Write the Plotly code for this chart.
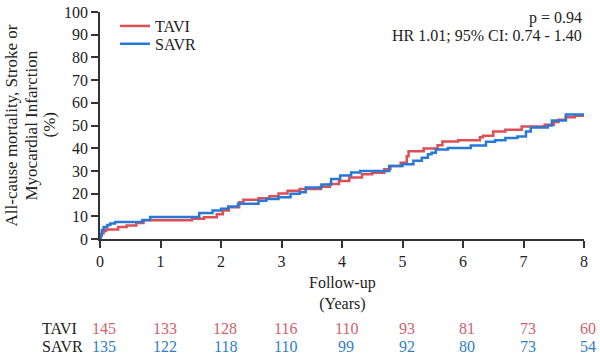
import plotly.graph_objects as go

# Kaplan-Meier style cumulative incidence (%)
tavi_t = [0, 0.01, 0.03, 0.06, 0.10, 0.30, 0.44, 0.60, 0.72, 1.52, 1.72, 1.93, 2.03, 2.13, 2.30, 2.37,
          2.62, 2.80, 2.95, 3.10, 3.30, 3.65, 3.80, 3.95, 4.12, 4.33, 4.50, 4.70, 4.80, 4.97, 5.07, 5.10,
          5.35, 5.58, 5.66, 5.92, 6.28, 6.33, 6.50, 6.70, 6.97, 7.35, 7.50, 7.58, 7.70, 7.85, 8.00]
tavi_v = [0, 1.5, 2.5, 3.5, 4.2, 5.3, 5.9, 7.1, 8.3, 8.9, 9.6, 10.9, 12.6, 14.0, 16.2, 17.3,
          18.0, 18.8, 20.0, 21.3, 22.0, 23.0, 24.2, 25.6, 27.1, 28.5, 29.2, 30.7, 32.2, 33.6, 36.5, 38.7,
          39.9, 41.3, 43.0, 43.5, 44.8, 45.5, 47.4, 48.1, 49.6, 50.3, 51.5, 52.5, 53.6, 54.3, 54.3]

savr_t = [0, 0.01, 0.03, 0.06, 0.12, 0.17, 0.25, 0.70, 0.83, 1.64, 1.86, 2.00, 2.12, 2.28, 2.62, 2.75,
          2.95, 3.15, 3.30, 3.40, 3.66, 3.82, 3.97, 4.15, 4.30, 4.78, 5.00, 5.18, 5.32, 5.42, 5.48, 5.55,
          5.75, 6.13, 6.38, 6.53, 6.70, 6.90, 7.04, 7.12, 7.40, 7.47, 7.70, 8.00]
savr_v = [0, 2.0, 4.0, 5.3, 6.2, 6.8, 7.5, 8.4, 9.7, 11.4, 12.6, 13.3, 14.3, 15.5, 16.9, 17.6,
          18.4, 19.9, 20.6, 22.7, 24.0, 26.4, 28.0, 29.3, 30.0, 32.2, 32.9, 34.5, 35.8, 37.3, 38.0, 39.4,
          40.1, 41.2, 42.8, 43.5, 44.5, 45.2, 47.4, 49.1, 50.0, 52.2, 54.9, 54.9]

risk_years = [0, 1, 2, 3, 4, 5, 6, 7, 8]
tavi_risk = [145, 133, 128, 116, 110, 93, 81, 73, 60]
savr_risk = [135, 122, 118, 110, 99, 92, 80, 73, 54]

y_title_lines = ["All-cause mortality, Stroke or", "Myocardial Infarction", "(%)"]

RED = "#dc4f55"
BLUE = "#2a78d6"
RED_TXT = "#d3606c"
BLUE_TXT = "#2f80c2"
FONT = "Liberation Serif"
INK = "#222222"

W, H = 600, 357
ML, MR, MT, MB = 100, 16, 9, 118
PW, PH = W - ML - MR, H - MT - MB


def px_x(p):  # page pixel -> paper x
    return (p - ML) / PW


def px_y(p):  # page pixel -> paper y
    return (H - MB - p) / PH


fig = go.Figure()
fig.add_trace(go.Scatter(x=tavi_t, y=tavi_v, mode="lines", name="TAVI", legend="legend",
                         line=dict(color=RED, width=2.5, shape="hv")))
fig.add_trace(go.Scatter(x=savr_t, y=savr_v, mode="lines", name="SAVR", legend="legend2",
                         line=dict(color=BLUE, width=2.5, shape="hv")))

axis_common = dict(showgrid=False, zeroline=False, showline=True, linecolor="#333333", linewidth=1.5,
                   ticks="outside", ticklen=7, tickwidth=1.5, tickcolor="#333333", automargin=False,
                   tickfont=dict(family=FONT, size=16, color=INK))

fig.update_xaxes(range=[0, 8], dtick=1, tick0=0, **axis_common)
fig.update_yaxes(range=[0, 100], dtick=10, tick0=0, **axis_common)

annotations = []
for txt, cx in zip(y_title_lines, [11, 31, 49]):
    annotations.append(dict(text=txt, textangle=-90, xref="paper", yref="paper", x=px_x(cx), y=0.5,
                            xanchor="center", yanchor="middle", showarrow=False,
                            font=dict(family=FONT, size=17, color=INK)))
annotations += [
    dict(text="Follow-up<br>(Years)", xref="paper", yref="paper", x=0.5, y=px_y(294),
         xanchor="center", yanchor="middle", showarrow=False, font=dict(family=FONT, size=16, color=INK)),
    dict(text="p = 0.94", xref="paper", yref="paper", x=1.0, y=px_y(15), xanchor="right", yanchor="middle",
         showarrow=False, font=dict(family=FONT, size=16, color=INK)),
    dict(text="HR 1.01; 95% CI: 0.74 - 1.40", xref="paper", yref="paper", x=1.0, y=px_y(33),
         xanchor="right", yanchor="middle", showarrow=False, font=dict(family=FONT, size=16, color=INK)),
    dict(text="TAVI", xref="paper", yref="paper", x=px_x(40), y=px_y(330), xanchor="left", yanchor="middle",
         showarrow=False, font=dict(family=FONT, size=16, color=INK)),
    dict(text="SAVR", xref="paper", yref="paper", x=px_x(40), y=px_y(348), xanchor="left", yanchor="middle",
         showarrow=False, font=dict(family=FONT, size=16, color=INK)),
]
for yr, a, b in zip(risk_years, tavi_risk, savr_risk):
    annotations.append(dict(text=str(a), xref="x", yref="paper", x=yr, y=px_y(330), xshift=4,
                            xanchor="center", yanchor="middle", showarrow=False,
                            font=dict(family=FONT, size=16, color=RED_TXT)))
    annotations.append(dict(text=str(b), xref="x", yref="paper", x=yr, y=px_y(348), xshift=4,
                            xanchor="center", yanchor="middle", showarrow=False,
                            font=dict(family=FONT, size=16, color=BLUE_TXT)))

legend_style = dict(xanchor="left", yanchor="top", bgcolor="rgba(0,0,0,0)",
                    font=dict(family=FONT, size=16, color=INK))

fig.update_layout(
    width=W, height=H,
    margin=dict(l=ML, r=MR, t=MT, b=MB),
    plot_bgcolor="white", paper_bgcolor="white",
    showlegend=True,
    legend=dict(x=px_x(115), y=px_y(6), **legend_style),
    legend2=dict(x=px_x(115), y=px_y(24), **legend_style),
    annotations=annotations,
)

fig.write_html("out.html", config={"displayModeBar": False},
               post_script="document.body.style.margin='0';")
